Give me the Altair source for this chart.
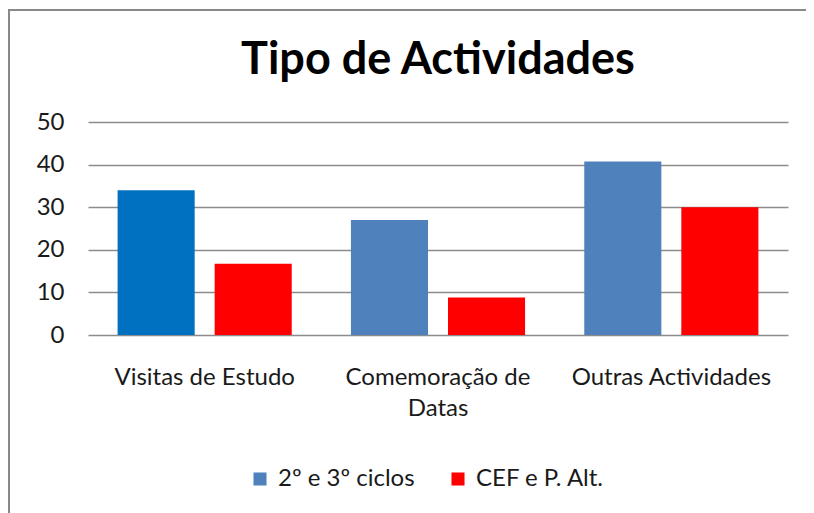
import altair as alt
import pandas as pd

categories = ["Visitas de Estudo", "Comemoração de Datas", "Outras Actividades"]
series_names = ["2º e 3º ciclos", "CEF e P. Alt."]
values_ciclos = [34, 27, 40.7]
values_cef = [16.7, 8.8, 30]
series_colors = ["#4F81BD", "#FF0000"]

rows = []
for c, a, b in zip(categories, values_ciclos, values_cef):
    rows.append({"categoria": c, "serie": series_names[0], "valor": a})
    rows.append({"categoria": c, "serie": series_names[1], "valor": b})
df = pd.DataFrame(rows)

FONT = "Lato"

bars = alt.Chart(df).mark_bar().encode(
    x=alt.X("categoria:N", sort=categories, title=None,
            scale=alt.Scale(paddingInner=0, paddingOuter=0),
            axis=alt.Axis(labelAngle=0, ticks=False, domain=False, labelPadding=30,
                          labelBaseline="top", labelLineHeight=31, labelLimit=400,
                          labelExpr="datum.label == 'Comemoração de Datas' ? ['Comemoração de', 'Datas'] : datum.label")),
    xOffset=alt.XOffset("serie:N", sort=series_names,
                        scale=alt.Scale(paddingInner=0.206, paddingOuter=0.305)),
    y=alt.Y("valor:Q", title=None, scale=alt.Scale(domain=[0, 50]),
            axis=alt.Axis(values=[0, 10, 20, 30, 40, 50], ticks=False, domain=False,
                          labelPadding=24, gridColor="#8c8c8c", gridWidth=1.3)),
    color=alt.condition(
        "datum.categoria == 'Visitas de Estudo' && datum.serie == '2º e 3º ciclos'",
        alt.value("#0070C0"),
        alt.Color("serie:N", sort=series_names, title=None,
                  scale=alt.Scale(domain=series_names, range=series_colors),
                  legend=alt.Legend(orient="none", direction="horizontal",
                                    legendX=160, legendY=345, symbolType="square",
                                    symbolSize=170, symbolStrokeWidth=0,
                                    labelOffset=6, columnPadding=31)),
    ),
)

frame_left = alt.Chart(alt.Data(values=[{}])).mark_rule(
    color="#888888", strokeWidth=2
).encode(x=alt.value(-79), y=alt.value(-113), y2=alt.value(420))

frame_top = alt.Chart(alt.Data(values=[{}])).mark_rule(
    color="#888888", strokeWidth=2
).encode(x=alt.value(-80), x2=alt.value(760), y=alt.value(-112))

chart = alt.layer(frame_left, frame_top, bars).properties(
    width=700, height=213,
    autosize=alt.AutoSizeParams(type="none"),
    padding={"left": 80, "top": 114, "right": 18, "bottom": 178},
    title=alt.Title("Tipo de Actividades", anchor="middle", frame="group",
                    fontSize=45, font=FONT, fontWeight="bold", color="#000000",
                    baseline="alphabetic", offset=-111),
).configure(
    font=FONT,
    background="#FFFFFF",
).configure_view(stroke=None).configure_axis(
    labelFont=FONT, labelFontSize=24, labelColor="#1a1a1a", grid=True
).configure_axisX(grid=False).configure_legend(
    labelFont=FONT, labelFontSize=24, labelColor="#1a1a1a"
)

chart.save("out.html", embed_options={"renderer": "svg", "actions": False})
